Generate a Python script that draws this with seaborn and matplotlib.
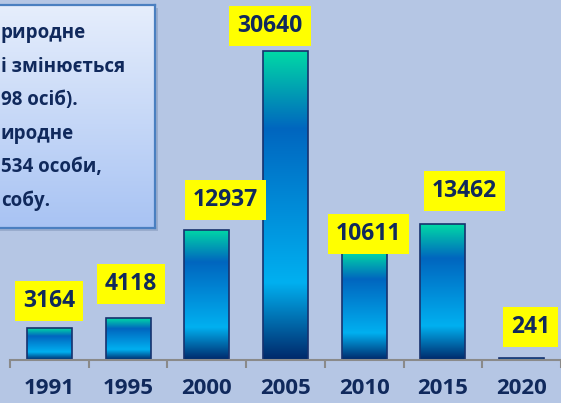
import numpy as np
import pandas as pd
import matplotlib
matplotlib.use('Agg')
import matplotlib.pyplot as plt
import seaborn as sns
from matplotlib.colors import LinearSegmentedColormap
from matplotlib.patches import Rectangle

# ---- data ----
years = ['1991', '1995', '2000', '2005', '2010', '2015', '2020']
values = [3164, 4118, 12937, 30640, 10611, 13462, 241]
note_lines = ['риродне', 'і змінюється', '98 осіб).', 'иродне', '534 особи,', 'собу.']

# label box offsets from bar top (pixels, dx right, dy up)
label_offsets_px = [(0, 27), (3, 34), (18.5, 30), (-15.5, 25.5), (4.5, 19), (21.5, 33), (9, 31)]

W, H = 561, 403
BG = '#b5c6e4'
NAVY = '#10295c'
GRAY = '#8a8a8a'

sns.set_theme(style='white')
plt.rcParams['font.family'] = ['Open Sans', 'DejaVu Sans']
plt.rcParams['font.weight'] = 'bold'

fig = plt.figure(figsize=(W / 100, H / 100), dpi=100, facecolor=BG)
ax = fig.add_axes([10 / W, 43 / H, 551 / W, 360 / H])
ax.set_facecolor(BG)

df = pd.DataFrame({'year': years, 'value': values})
sns.barplot(data=df, x='year', y='value', width=0.57, ax=ax, color='#0080d0',
            saturation=1, edgecolor='#17326e', linewidth=1.2, zorder=2)

bar_cmap = LinearSegmentedColormap.from_list(
    'bar', [(0, '#00d9a6'), (0.25, '#0066bf'), (0.75, '#00b0f0'), (1, '#00286a')])
grad = np.linspace(0, 1, 256).reshape(-1, 1)
for p in ax.patches:
    x0, w, h = p.get_x(), p.get_width(), p.get_height()
    im = ax.imshow(grad, cmap=bar_cmap, extent=[x0, x0 + w, 0, h], origin='upper',
                   aspect='auto', interpolation='bilinear', zorder=1.5)
    im.set_clip_path(p)
    p.set_facecolor('none')

ax.set_xlim(-0.5, -0.5 + 551 / 79)
ax.set_ylim(0, 35700)
ax.set_xlabel('')
ax.set_ylabel('')
ax.set_yticks([])
for s in ['top', 'right', 'left']:
    ax.spines[s].set_visible(False)
ax.spines['bottom'].set_color(GRAY)
ax.spines['bottom'].set_linewidth(1.5)
ax.set_xticks(np.arange(-0.5, 7, 1), minor=True)
ax.tick_params(axis='x', which='major', length=0, pad=13, labelsize=16,
               labelcolor=NAVY, bottom=True)
ax.tick_params(axis='x', which='minor', length=5.8, width=1.5, color=GRAY,
               direction='out', bottom=True)
for t in ax.get_xticklabels():
    t.set_fontweight('bold')

for i, (v, (dx, dy)) in enumerate(zip(values, label_offsets_px)):
    ax.annotate(f'{v}', xy=(i, v), xytext=(dx * 0.72, dy * 0.72),
                textcoords='offset points', ha='center', va='center',
                fontsize=16.5, fontweight='bold', color=NAVY, zorder=5,
                bbox=dict(boxstyle='square,pad=0.35', fc='#ffff00', ec='none'))

# ---- note box (cropped at the left) ----
shadow = Rectangle(((-6 + 3) / W, (175 - 3) / H), 161 / W, 223 / H,
                   transform=fig.transFigure, fc='#7f93b8', ec='none', alpha=0.5, zorder=2)
fig.add_artist(shadow)
tax = fig.add_axes([-6 / W, 175 / H, 161 / W, 223 / H])
tax.set_zorder(3)
box_cmap = LinearSegmentedColormap.from_list('box', ['#e6eefc', '#a8c3f3'])
tax.imshow(grad, cmap=box_cmap, aspect='auto', extent=[0, 1, 0, 1], origin='upper')
tax.set_xlim(0, 1)
tax.set_ylim(0, 1)
tax.set_xticks([])
tax.set_yticks([])
for s in tax.spines.values():
    s.set_color('#4a7fc0')
    s.set_linewidth(1.6)

for k, line in enumerate(note_lines):
    ypx = 33 + 33.5 * k
    fig.text(1 / W, 1 - ypx / H, line, ha='left', va='center', fontsize=13.5,
             fontweight='bold', color=NAVY, zorder=4)

fig.savefig('out.png', dpi=100, facecolor=BG)
